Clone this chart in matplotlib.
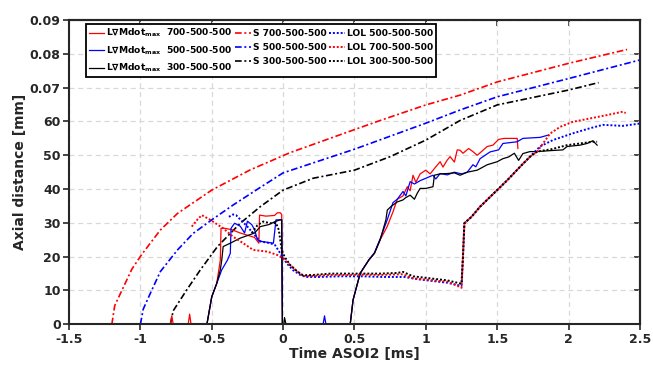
import matplotlib
matplotlib.use("Agg")
import matplotlib.pyplot as plt

plt.rcParams['font.family'] = ['DejaVu Sans']
plt.rcParams['font.weight'] = 'bold'
plt.rcParams['mathtext.default'] = 'bf'

# ---- spray penetration (S), dash-dot ----
s700_x = [-1.2, -1.18, -1.13, -1.06, -0.99, -0.86, -0.74, -0.5, -0.23, 0.05, 0.5, 0.68, 1.0, 1.24, 1.5, 2.0, 2.41]
s700_y = [0, 5.5, 10, 16.3, 20.7, 27.9, 32.8, 39.7, 45.7, 50.8, 57.6, 60.3, 64.9, 67.8, 71.7, 77.2, 81.3]
s500_x = [-1.0, -0.98, -0.93, -0.86, -0.74, -0.63, -0.5, -0.35, -0.16, 0.0, 0.5, 1.0, 1.24, 1.5, 2.0, 2.5]
s500_y = [0, 4.5, 9.2, 15.6, 22, 26.9, 30.9, 35.3, 40.5, 44.8, 51.8, 59.5, 63.4, 67.3, 72.7, 78.2]
s300_x = [-0.79, -0.77, -0.675, -0.58, -0.46, -0.3, -0.16, 0.0, 0.21, 0.5, 0.75, 1.0, 1.24, 1.5, 2.0, 2.21]
s300_y = [0, 4, 10.2, 16.1, 23, 29.9, 34.8, 39.7, 43.2, 45.6, 49.6, 54.5, 60.3, 64.9, 69.3, 71.5]

# ---- L grad Mdot_max, solid ----
l700_x = [-1.2, -0.79, -0.78, -0.77, -0.665, -0.655, -0.645, -0.534, -0.5, -0.465, -0.44, -0.435,
          -0.41, -0.36, -0.3, -0.2, -0.17, -0.165, -0.12, -0.06, -0.04, -0.02, -0.01, -0.005,
          0.47, 0.49, 0.54, 0.6, 0.64, 0.68, 0.73, 0.77, 0.8, 0.84, 0.87, 0.89, 0.91, 0.93, 0.96,
          1.0, 1.03, 1.07, 1.1, 1.12, 1.15, 1.17, 1.2, 1.22, 1.24, 1.26, 1.3, 1.33, 1.36, 1.39,
          1.43, 1.47, 1.51, 1.55, 1.6, 1.64, 1.645]
l700_y = [0, 0, 2.5, 0, 0, 3, 0, 0, 8.1, 12.1, 19, 28.4,
          28.4, 28, 27, 25.7, 24, 32.3, 32, 32.2, 33, 33, 32.5, 0,
          0, 7.2, 15.1, 19, 21, 25, 29, 33.3, 37, 38, 40.7, 39.5, 44.1, 42, 44.5,
          45.6, 44.5, 46.6, 48.1, 46.5, 48.6, 49.6, 48, 51.6, 51.5, 50.6, 52, 51.1, 50, 51.1,
          52.6, 53, 54.7, 55, 55, 55, 52]
l500_x = [-1.0, -0.534, -0.5, -0.465, -0.43, -0.39, -0.37, -0.365, -0.34, -0.3, -0.27, -0.25,
          -0.22, -0.2, -0.18, -0.15, -0.1, -0.068, -0.05, -0.01, -0.005, 0.28, 0.29, 0.3,
          0.47, 0.49, 0.54, 0.6, 0.64, 0.68, 0.73, 0.77, 0.8, 0.84, 0.86, 0.89, 0.92, 0.96,
          1.0, 1.05, 1.07, 1.1, 1.15, 1.2, 1.25, 1.29, 1.33, 1.35, 1.38, 1.45, 1.51, 1.54,
          1.64, 1.68, 1.8, 1.86]
l500_y = [0, 0, 8.1, 12.1, 16.1, 19, 21, 28.4, 29.9, 29, 27, 30.5,
          29.5, 28, 25, 24.5, 24.2, 24, 30.9, 30.9, 0, 0, 2.5, 0,
          0, 7.2, 15.1, 19, 21.2, 25.3, 31, 36, 37, 39.3, 38, 42.2, 41.5, 42.5,
          43.2, 44.1, 43, 44.6, 44.2, 45, 44.5, 45, 47.2, 46.6, 49, 51, 51.6, 53.5,
          54, 55, 55.3, 56]
l300_x = [-0.8, -0.534, -0.5, -0.465, -0.44, -0.43, -0.42, -0.37, -0.3, -0.2, -0.16, -0.1,
          -0.056, -0.02, -0.01, -0.005, 0.005, 0.01, 0.02, 0.47, 0.49, 0.54, 0.6, 0.64, 0.68,
          0.72, 0.73, 0.76, 0.8, 0.84, 0.86, 0.89, 0.92, 0.94, 0.96, 1.0, 1.05, 1.06, 1.1,
          1.15, 1.2, 1.24, 1.29, 1.36, 1.43, 1.5, 1.54, 1.58, 1.62, 1.65, 1.68, 1.73, 1.78,
          1.88, 1.96, 1.99, 2.08, 2.13, 2.17, 2.2]
l300_y = [0, 0, 8.2, 12.1, 16.1, 19, 23, 24, 25.5, 27, 28.9, 29.5,
          30.4, 30.9, 30.9, 0, 0, 2, 0, 0, 7.2, 15.1, 19, 21, 25,
          30.9, 33.8, 35, 36.2, 36.8, 37.5, 38.2, 37, 38.8, 40.2, 40.2, 40.7, 44.1, 44.5,
          44.6, 44.8, 44.1, 45, 45.6, 47.2, 48.1, 49, 49.5, 50.6, 48.5, 50.5, 51.1, 51.1,
          51.4, 51.6, 52.6, 53, 53.5, 54.3, 53]

# ---- lift-off length (LOL), dotted ----
lol500_x = [-0.38, -0.35, -0.33, -0.3, -0.25, -0.21, -0.16, -0.09, -0.056, -0.02, 0.026, 0.07,
            0.12, 0.16, 0.25, 0.4, 0.55, 0.7, 0.85, 0.95, 1.05, 1.15, 1.2, 1.25, 1.26, 1.27,
            1.32, 1.38, 1.57, 1.66, 1.73, 1.8, 1.89, 2.03, 2.15, 2.24, 2.38, 2.5]
lol500_y = [31.8, 32.5, 32.3, 31, 28.9, 26.9, 24.5, 24, 23.4, 21, 18, 16,
            14.6, 14, 14, 14.2, 14.2, 14, 14, 13.3, 12.8, 12.3, 11.8, 11.4, 20, 29.9,
            31.8, 34.8, 42.6, 46.6, 49.6, 52.6, 54.5, 56.5, 58, 59, 58.7, 59.4]
lol700_x = [-0.64, -0.6, -0.57, -0.51, -0.42, -0.35, -0.28, -0.21, -0.11, -0.04, 0.0, 0.05,
            0.1, 0.14, 0.21, 0.33, 0.45, 0.56, 0.68, 0.84, 0.91, 1.03, 1.15, 1.19, 1.25, 1.26,
            1.27, 1.32, 1.38, 1.57, 1.66, 1.73, 1.78, 1.87, 1.94, 2.03, 2.15, 2.27, 2.38, 2.4]
lol700_y = [28.9, 31, 32.3, 30.9, 28.4, 25.9, 24, 22, 21.5, 20.5, 19.5, 17.5,
            15.6, 14.3, 14.3, 14.6, 14.6, 14.7, 14.6, 14.8, 13.6, 13.1, 12.6, 12, 10.8, 20,
            29.9, 31.8, 34.8, 42.6, 46.6, 49.6, 51.1, 56.4, 58.4, 59.9, 60.9, 61.9, 62.9, 62.5]
lol300_x = [-0.22, -0.18, -0.14, -0.09, -0.05, -0.03, -0.01, 0.01, 0.05, 0.1, 0.14, 0.21,
            0.33, 0.45, 0.56, 0.68, 0.8, 0.84, 0.91, 1.03, 1.15, 1.2, 1.25, 1.26, 1.27, 1.32,
            1.38, 1.57, 1.66, 1.73, 1.78, 1.88, 1.99, 2.08, 2.17, 2.2]
lol300_y = [27, 29.3, 30.4, 29.9, 30, 27.9, 22, 20, 17.5, 15.6, 14.5, 14.6,
            15, 15, 15, 15, 15.2, 15.5, 14.2, 13.6, 13, 12.5, 12, 20, 29.9, 31.8,
            34.8, 42.6, 46.6, 49.6, 51.1, 51.8, 53, 53.5, 54, 54]

xticks = [-1.5, -1, -0.5, 0, 0.5, 1, 1.5, 2, 2.5]
xtick_labels = ['-1.5', '-1', '-0.5', '0', '0.5', '1', '1.5', '2', '2.5']
yticks = [0, 10, 20, 30, 40, 50, 60, 70, 80, 90]
ytick_labels = ['0', '10', '20', '30', '40', '50', '60', '0.07', '0.08', '0.09']

RED, BLUE, BLACK = '#ff0000', '#0000ff', '#000000'
dashdot = (0, (4, 1.6, 1.2, 1.6))
dotted = (0, (1, 1))
axc = '#262626'

fig = plt.figure(figsize=(6.53, 3.65), dpi=100)
ax = fig.add_axes([0.1057, 0.1115, 0.8743, 0.8335])

h_s7, = ax.plot(s700_x, s700_y, color=RED, ls=dashdot, lw=1.2)
h_s5, = ax.plot(s500_x, s500_y, color=BLUE, ls=dashdot, lw=1.2)
h_s3, = ax.plot(s300_x, s300_y, color=BLACK, ls=dashdot, lw=1.2)
h_l7, = ax.plot(l700_x, l700_y, color=RED, lw=0.9)
h_l5, = ax.plot(l500_x, l500_y, color=BLUE, lw=0.9)
h_l3, = ax.plot(l300_x, l300_y, color=BLACK, lw=0.9)
h_o5, = ax.plot(lol500_x, lol500_y, color=BLUE, ls=dotted, lw=1.4)
h_o7, = ax.plot(lol700_x, lol700_y, color=RED, ls=dotted, lw=1.4)
h_o3, = ax.plot(lol300_x, lol300_y, color=BLACK, ls=dotted, lw=1.4)

ax.set_xlim(-1.5, 2.5)
ax.set_ylim(0, 90)
ax.set_xticks(xticks)
ax.set_xticklabels(xtick_labels)
ax.set_yticks(yticks)
ax.set_yticklabels(ytick_labels)
ax.tick_params(axis='both', direction='out', length=4, width=1.2, colors=axc,
               labelsize=9, pad=2)
ax.grid(True, color='#d8d8d8', ls=(0, (4, 3)), lw=0.9)
ax.set_axisbelow(True)
for sp in ax.spines.values():
    sp.set_color(axc)
    sp.set_linewidth(1.5)

# inward ticks on the right and top sides
sec_y = ax.secondary_yaxis('right')
sec_y.set_yticks(yticks)
sec_y.set_yticklabels([])
sec_y.tick_params(direction='in', length=4, width=1.2, colors=axc)
sec_y.spines['right'].set_linewidth(1.5)
sec_x = ax.secondary_xaxis('top')
sec_x.set_xticks(xticks)
sec_x.set_xticklabels([])
sec_x.tick_params(direction='in', length=4, width=1.2, colors=axc)
sec_x.spines['top'].set_linewidth(1.5)

ax.set_xlabel('Time ASOI2 [ms]', fontsize=10, fontweight='bold', color=axc, labelpad=1)
ax.set_ylabel('Axial distance [mm]', fontsize=10, fontweight='bold', color=axc, labelpad=2)

handles = [h_l7, h_l5, h_l3, h_s7, h_s5, h_s3, h_o5, h_o7, h_o3]
labels = [r'L$\nabla$Mdot$_{max}$  700-500-500', r'L$\nabla$Mdot$_{max}$  500-500-500',
          r'L$\nabla$Mdot$_{max}$  300-500-500',
          'S 700-500-500', 'S 500-500-500', 'S 300-500-500',
          'LOL 500-500-500', 'LOL 700-500-500', 'LOL 300-500-500']
leg = ax.legend(handles, labels, ncol=3, loc='upper left',
                bbox_to_anchor=(86 / 653, 1 - 24 / 365), bbox_transform=fig.transFigure,
                borderaxespad=0, fontsize=6.6, frameon=True, fancybox=False,
                handlelength=1.7, handletextpad=0.2, columnspacing=0.3,
                labelspacing=0.55, borderpad=0.3)
leg.get_frame().set_edgecolor('black')
leg.get_frame().set_linewidth(1.3)
leg.get_frame().set_alpha(1)
for t in leg.get_texts():
    t.set_fontweight('bold')

fig.savefig('out.png', dpi=100)
